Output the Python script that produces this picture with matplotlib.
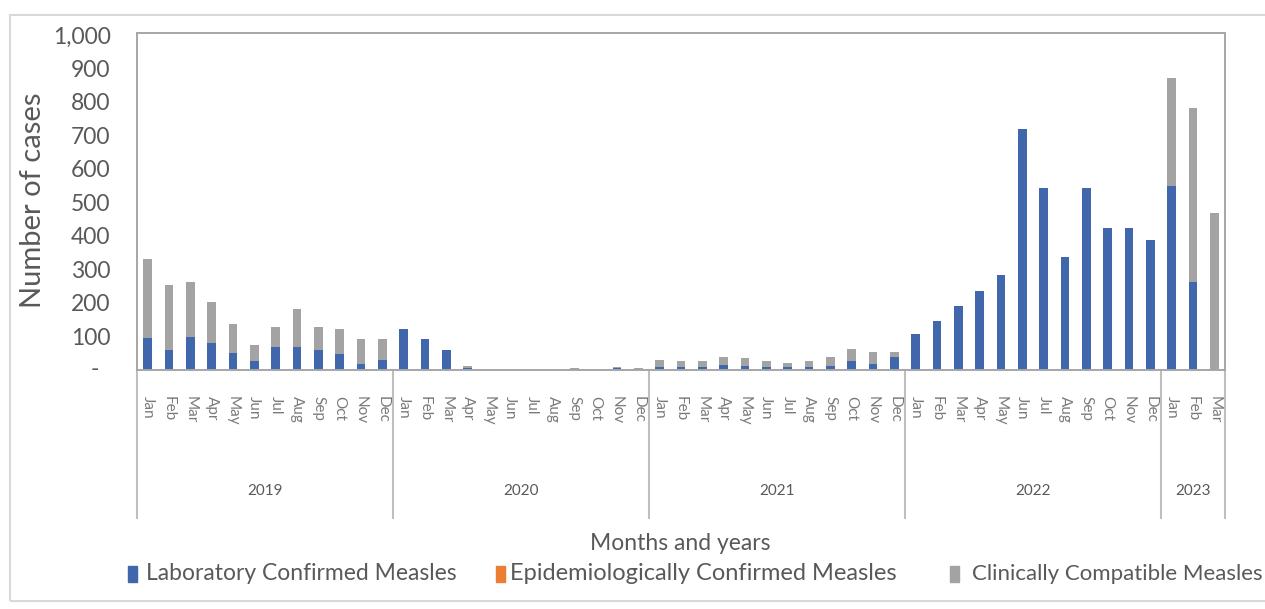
import matplotlib
matplotlib.use("Agg")
import matplotlib.pyplot as plt
import matplotlib.transforms as mtransforms
from matplotlib.patches import Rectangle
from matplotlib.ticker import FuncFormatter
import numpy as np

plt.rcParams['font.family'] = ['Lato', 'DejaVu Sans']

# ---- data -------------------------------------------------------------
years = ['2019', '2020', '2021', '2022', '2023']
months_per_year = [12, 12, 12, 12, 3]
month_names = ['Jan', 'Feb', 'Mar', 'Apr', 'May', 'Jun',
               'Jul', 'Aug', 'Sep', 'Oct', 'Nov', 'Dec']

lab_confirmed = [
    95, 58, 98, 80, 48, 25, 66, 67, 58, 45, 15, 28,          # 2019
    122, 90, 58, 5, 0, 0, 0, 0, 0, 0, 3, 0,                  # 2020
    8, 8, 8, 12, 10, 8, 6, 8, 10, 25, 15, 38,                # 2021
    105, 146, 190, 234, 282, 719, 542, 336, 542, 422, 422, 387,  # 2022
    549, 263, 0,                                             # 2023
]
epi_confirmed = [
    0, 0, 0, 0, 0, 0, 0, 0, 0, 0, 0, 0,
    0, 0, 0, 0, 0, 0, 0, 0, 0, 0, 0, 0,
    0, 0, 0, 0, 0, 0, 0, 0, 0, 0, 0, 0,
    0, 0, 0, 0, 0, 0, 0, 0, 0, 0, 0, 0,
    0, 0, 0,
]
clin_compatible = [
    234, 194, 165, 123, 87, 48, 61, 113, 69, 77, 77, 64,
    0, 0, 0, 5, 0, 0, 0, 0, 5, 0, 5, 5,
    20, 16, 16, 26, 24, 16, 14, 16, 28, 35, 37, 15,
    0, 0, 0, 0, 0, 0, 0, 0, 0, 0, 0, 0,
    321, 519, 469,
]

series_names = ['Laboratory Confirmed Measles',
                'Epidemiologically Confirmed Measles',
                'Clinically Compatible Measles']
series_colors = ['#4067AC', '#ED7D31', '#A3A3A3']

# ---- figure -----------------------------------------------------------
W, H = 1265, 609
fig = plt.figure(figsize=(W / 100, H / 100), dpi=100)
fig.patch.set_facecolor('white')

# outer chart frame
fig.patches.append(Rectangle((10 / W, 8 / H), 1.2, 1 - 23 / H,
                             transform=fig.transFigure, fill=False,
                             edgecolor='#D9D9D9', linewidth=1.5))

ax = fig.add_axes([137 / W, 1 - 369.5 / H, 1088 / W, 336.5 / H])

n = len(lab_confirmed)
x = np.arange(n)
bottom = np.zeros(n)
for vals, name, col in zip([lab_confirmed, epi_confirmed, clin_compatible],
                           series_names, series_colors):
    vals = np.asarray(vals, dtype=float)
    ax.bar(x, vals, width=0.42, bottom=bottom, color=col, linewidth=0, label=name)
    bottom += vals

ax.set_xlim(-0.5, n - 0.5)
ax.set_ylim(0, 1006)
ax.set_yticks(range(0, 1001, 100))
ax.yaxis.set_major_formatter(
    FuncFormatter(lambda v, p: '' if v == 0 else f'{int(v):,}'))
ax.tick_params(axis='y', length=0, pad=19, labelsize=16.5, labelcolor='#595959')
ax.set_xticks([])
for s in ax.spines.values():
    s.set_color('#A6A6A6')
    s.set_linewidth(1.4)

# zero shown as a dash (accounting style)
ax.text(-0.039, 0, '-', transform=mtransforms.blended_transform_factory(ax.transAxes, ax.transData),
        ha='center', va='center', fontsize=16.5, color='#595959')

# two-level category axis: months, then years
trans = mtransforms.blended_transform_factory(ax.transData, ax.transAxes)
i = 0
boundaries = [-0.5]
for yr, cnt in zip(years, months_per_year):
    for m in range(cnt):
        ax.text(i + m, -0.08, month_names[m], transform=trans, rotation=-90,
                ha='center', va='top', fontsize=11, color='#7A7A7A')
    ax.text(i + (cnt - 1) / 2, -0.362, yr, transform=trans, ha='center',
            va='center', fontsize=11, color='#595959')
    i += cnt
    boundaries.append(i - 0.5)
for b in boundaries:
    ax.plot([b, b], [0, -0.441], transform=trans, color='#BFBFBF',
            linewidth=1.5, clip_on=False)

# axis titles
fig.text(33 / W, 1 - 200 / H, 'Number of cases', rotation=90, ha='center',
         va='center', fontsize=21, color='#595959')
fig.text(680 / W, 1 - 543 / H, 'Months and years', ha='center', va='center',
         fontsize=16.5, color='#595959')

# legend row
legend_sq_x = [128, 496, 950]
legend_txt_x = [146, 510, 972]
legend_sizes = [16.5, 17, 16]
ly = 1 - 574 / H
for sx, tx, fs, name, col in zip(legend_sq_x, legend_txt_x, legend_sizes,
                                 series_names, series_colors):
    fig.patches.append(Rectangle((sx / W, ly - 8 / H), 9 / W, 16 / H,
                                 transform=fig.transFigure, color=col))
    fig.text(tx / W, ly, name, ha='left', va='center', fontsize=fs,
             color='#595959')

fig.savefig('out.png', dpi=100, facecolor='white')
